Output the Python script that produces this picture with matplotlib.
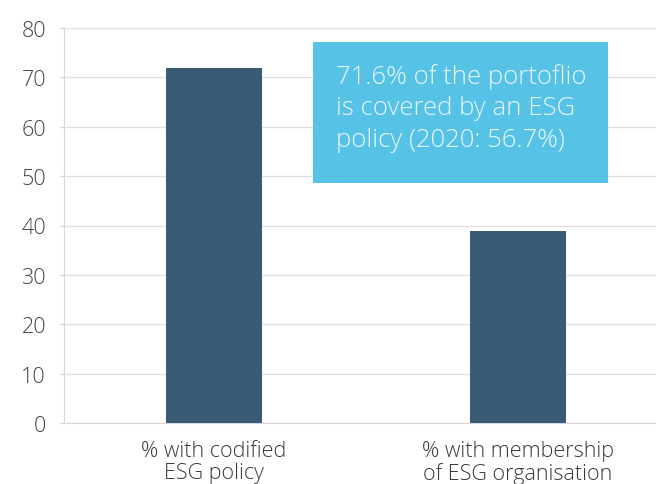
import matplotlib
matplotlib.use("Agg")
import matplotlib.pyplot as plt
from matplotlib.patches import Rectangle

categories = ["% with codified\nESG policy", "% with membership\nof ESG organisation"]
values = [71.9, 38.9]
y_ticks = [0, 10, 20, 30, 40, 50, 60, 70, 80]
note = "71.6% of the portoflio\nis covered by an ESG\npolicy (2020: 56.7%)"

plt.rcParams['font.family'] = ['Open Sans', 'DejaVu Sans']

fig = plt.figure(figsize=(6.56, 4.85), dpi=100)
ax = fig.add_axes([64 / 656, 61 / 485, 1 - 64 / 656, 395 / 485])

x = range(len(categories))
ax.bar(x, values, width=0.316, color="#3a5b74", zorder=3)

ax.set_xlim(-0.493, 1.454)
ax.set_ylim(0, 80)
ax.set_yticks(y_ticks)
ax.set_xticks(list(x))
ax.set_xticklabels(categories, fontsize=15.5, color="#3a3a3a", linespacing=1.08,
                   fontweight="light")
ax.tick_params(axis='y', labelsize=15.5, colors="#444444", length=3, width=1, pad=10)
ax.tick_params(axis='y', color="#d9d4d7")
ax.tick_params(axis='x', length=0, pad=12)
for lbl in ax.get_yticklabels():
    lbl.set_fontweight("light")

ax.grid(axis='y', color="#e6dde2", linewidth=1, zorder=0)
for s in ["top", "right"]:
    ax.spines[s].set_visible(False)
ax.spines["left"].set_color("#d9d4d7")
ax.spines["bottom"].set_color("#d9d4d7")

# annotation box
ax.add_patch(Rectangle((0.326, 48.6), 0.970, 28.5, facecolor="#55c2e6",
                       edgecolor="none", zorder=4))
ax.text(0.401, 56.2, note, fontsize=18.5, color="#e8f6fb", va="baseline", ha="left",
        linespacing=1.32, fontweight="light", zorder=5)

fig.savefig("out.png", dpi=100)
